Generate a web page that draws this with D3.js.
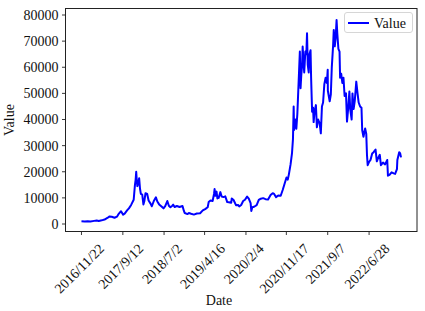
<!DOCTYPE html>
<html>
<head>
<meta charset="utf-8">
<script src="https://cdnjs.cloudflare.com/ajax/libs/d3/7.8.5/d3.min.js"></script>
<style>
  body { margin: 0; background: #fff; }
  svg { display: block; }
  text { font-family: "Liberation Serif", "DejaVu Serif", serif; }
</style>
</head>
<body>
<svg width="425" height="311"></svg>
<script>
// values
const dates = [
  "2016-11-22","2016-12-15","2017-01-05","2017-01-25","2017-02-20","2017-03-10","2017-03-25","2017-04-15",
  "2017-05-05","2017-05-25","2017-06-10","2017-06-25","2017-07-15","2017-08-01","2017-08-15","2017-08-30",
  "2017-09-14","2017-09-25","2017-10-12","2017-10-25","2017-11-10","2017-11-28","2017-12-07","2017-12-12",
  "2017-12-16","2017-12-19","2017-12-24","2017-12-30","2018-01-06","2018-01-12","2018-01-18","2018-01-28",
  "2018-02-05","2018-02-12","2018-02-20","2018-03-04","2018-03-14","2018-03-28","2018-04-06","2018-04-20",
  "2018-05-05","2018-05-15","2018-05-28","2018-06-12","2018-06-28","2018-07-10","2018-07-25","2018-08-05",
  "2018-08-16","2018-08-30","2018-09-05","2018-09-15","2018-10-01","2018-10-20","2018-11-10","2018-11-20",
  "2018-11-26","2018-12-15","2018-12-25","2019-01-10","2019-01-30","2019-02-20","2019-03-15","2019-04-03",
  "2019-04-20","2019-05-08","2019-05-15","2019-05-28","2019-06-12","2019-06-22","2019-06-26","2019-07-02",
  "2019-07-10","2019-07-16","2019-07-25","2019-08-06","2019-08-15","2019-08-28","2019-09-10","2019-09-24",
  "2019-10-05","2019-10-22","2019-10-26","2019-11-08","2019-11-25","2019-12-10","2019-12-18","2020-01-01",
  "2020-01-15","2020-01-28","2020-02-12","2020-02-24","2020-03-08","2020-03-13","2020-03-20","2020-04-02",
  "2020-04-20","2020-05-05","2020-05-20","2020-06-05","2020-06-22","2020-07-10","2020-07-28","2020-08-12",
  "2020-08-22","2020-09-05","2020-09-20","2020-10-08","2020-10-22","2020-11-05","2020-11-18","2020-11-27",
  "2020-12-05","2020-12-17","2020-12-27","2021-01-03","2021-01-08","2021-01-11","2021-01-20","2021-01-27",
  "2021-02-03","2021-02-09","2021-02-15","2021-02-21","2021-02-26","2021-03-03","2021-03-08","2021-03-13",
  "2021-03-18","2021-03-24","2021-04-01","2021-04-08","2021-04-13","2021-04-18","2021-04-25","2021-04-30",
  "2021-05-08","2021-05-12","2021-05-19","2021-05-26","2021-05-30","2021-06-05","2021-06-15","2021-06-22",
  "2021-07-01","2021-07-12","2021-07-20","2021-07-28","2021-08-05","2021-08-14","2021-08-23","2021-09-01",
  "2021-09-07","2021-09-08","2021-09-21","2021-09-29","2021-10-06","2021-10-15","2021-10-20","2021-10-27",
  "2021-11-02","2021-11-09","2021-11-14","2021-11-22","2021-11-30","2021-12-04","2021-12-12","2021-12-20",
  "2021-12-28","2022-01-05","2022-01-15","2022-01-22","2022-01-30","2022-02-08","2022-02-14","2022-02-24",
  "2022-03-02","2022-03-10","2022-03-18","2022-03-29","2022-04-06","2022-04-15","2022-04-25","2022-05-05",
  "2022-05-10","2022-05-19","2022-05-31","2022-06-08","2022-06-13","2022-06-18","2022-06-28","2022-07-08",
  "2022-07-20","2022-07-30","2022-08-13","2022-08-22","2022-09-02","2022-09-12","2022-09-20","2022-10-05",
  "2022-10-20","2022-11-04","2022-11-09","2022-11-20","2022-12-05","2022-12-20","2022-12-30","2023-01-12",
  "2023-01-15","2023-01-28","2023-02-04","2023-02-10"
];
const values = [
  1100,1000,1050,1000,1200,1350,1150,1400,
  1700,2300,2900,2800,2400,2800,4000,4900,
  3600,4000,5200,6000,7300,9300,15000,17000,
  20000,17500,14500,15500,17500,13500,11500,11200,
  7500,8800,11800,11500,9000,7800,6800,8800,
  10200,8600,7500,6800,6000,6800,8800,7000,
  6400,7000,7400,6500,6900,6500,6900,5000,
  4200,3800,4200,3900,3600,4000,4100,5200,
  5700,6400,8400,9000,8800,11500,13400,10800,
  12400,9800,10000,12200,10500,10300,10600,8400,
  8300,8100,9800,9200,7200,7300,6700,7300,
  8800,9300,10500,9700,8000,5000,6400,6600,
  7200,9200,9700,9900,9500,9400,11100,11800,
  11500,10300,10900,10800,13000,15500,17800,17000,
  19000,22800,27000,32500,45000,36000,40000,36500,
  42000,50000,58000,66000,52000,57000,60000,67900,
  63000,58000,66000,65000,73000,61000,58000,65000,
  66500,56000,43000,44500,39000,43000,45500,37000,
  40000,38500,34700,45000,46500,53500,56000,54000,
  59000,51000,47000,49500,60000,68000,74300,68000,
  71000,78100,73000,67000,66000,56000,57500,54000,
  56000,49000,50000,39200,44000,50700,44000,40000,
  50000,44000,47000,54500,50500,46500,45000,44500,
  36000,33400,36600,34500,26500,22500,23800,24500,
  27000,27500,28500,24000,25500,26500,22500,23500,
  22800,24500,18500,18800,19800,19400,19200,21000,
  24500,27500,27000,25500
];
const tickDates = ["2016-11-22","2017-09-12","2018-07-02","2019-04-16","2020-02-04","2020-11-17","2021-09-07","2022-06-28"];
const yTicks = [0, 10000, 20000, 30000, 40000, 50000, 60000, 70000, 80000];
const seriesName = "Value";

const svg = d3.select("svg");
const font = '"Liberation Serif", "DejaVu Serif", serif';
const box = { left: 65.5, right: 417, top: 8.5, bottom: 231.5 };
const parse = d3.timeParse("%Y-%m-%d");
const fmt = d3.timeFormat("%Y/%-m/%-d");
const pts = dates.map((d, i) => ({ date: parse(d), value: values[i] }));

const ext = d3.extent(pts, d => d.date);
const pad = (ext[1] - ext[0]) * 0.05;
const x = d3.scaleTime()
  .domain([new Date(+ext[0] - pad), new Date(+ext[1] + pad)])
  .range([box.left, box.right]);
const y = d3.scaleLinear().domain([-3060, 82300]).range([232, 9]);

// line
const line = d3.line().x(d => x(d.date)).y(d => y(d.value));
svg.append("path").datum(pts)
  .attr("d", line)
  .attr("fill", "none")
  .attr("stroke", "#0000ff")
  .attr("stroke-width", 2)
  .attr("stroke-linejoin", "round");

// frame
svg.append("rect")
  .attr("x", box.left).attr("y", box.top)
  .attr("width", box.right - box.left).attr("height", box.bottom - box.top)
  .attr("fill", "none").attr("stroke", "#222").attr("stroke-width", 1);

// y axis
const yg = svg.append("g").selectAll("g").data(yTicks).join("g")
  .attr("transform", d => `translate(0,${y(d)})`);
yg.append("line").attr("x1", box.left - 3.5).attr("x2", box.left)
  .attr("stroke", "#222").attr("stroke-width", 0.9);
yg.append("text").attr("x", box.left - 7).attr("dy", "0.35em")
  .attr("text-anchor", "end").attr("font-size", 14).attr("fill", "#111")
  .attr("font-family", font)
  .text(d => d);

// x axis
const xg = svg.append("g").selectAll("g").data(tickDates.map(parse)).join("g");
xg.append("line")
  .attr("x1", d => x(d)).attr("x2", d => x(d))
  .attr("y1", box.bottom).attr("y2", box.bottom + 3.5)
  .attr("stroke", "#222").attr("stroke-width", 0.9);
xg.append("text")
  .attr("text-anchor", "middle").attr("dominant-baseline", "central")
  .attr("font-size", 14).attr("fill", "#111").attr("font-family", font)
  .text(d => fmt(d))
  .attr("transform", function(d) {
    const L = this.getComputedTextLength();
    const H = (L + 9.5) * Math.SQRT1_2;
    return `translate(${x(d) - 2},${243 + H / 2}) rotate(-45)`;
  });

// axis titles
svg.append("text").attr("x", 219).attr("y", 305)
  .attr("text-anchor", "middle").attr("font-size", 14).attr("fill", "#111")
  .attr("font-family", font)
  .text("Date");
svg.append("text").attr("transform", "translate(14,120) rotate(-90)")
  .attr("text-anchor", "middle").attr("font-size", 14).attr("fill", "#111")
  .attr("font-family", font)
  .text("Value");

// legend
const lg = svg.append("g");
lg.append("rect").attr("x", 344.5).attr("y", 12.5).attr("width", 68).attr("height", 20)
  .attr("rx", 2.5).attr("fill", "#fff").attr("fill-opacity", 0.8)
  .attr("stroke", "#d6d6d6").attr("stroke-width", 1);
lg.append("line").attr("x1", 348).attr("x2", 369).attr("y1", 23).attr("y2", 23)
  .attr("stroke", "#0000ff").attr("stroke-width", 2);
lg.append("text").attr("x", 374).attr("y", 28).attr("font-size", 14).attr("fill", "#111")
  .attr("font-family", font)
  .text(seriesName);
</script>
</body>
</html>
